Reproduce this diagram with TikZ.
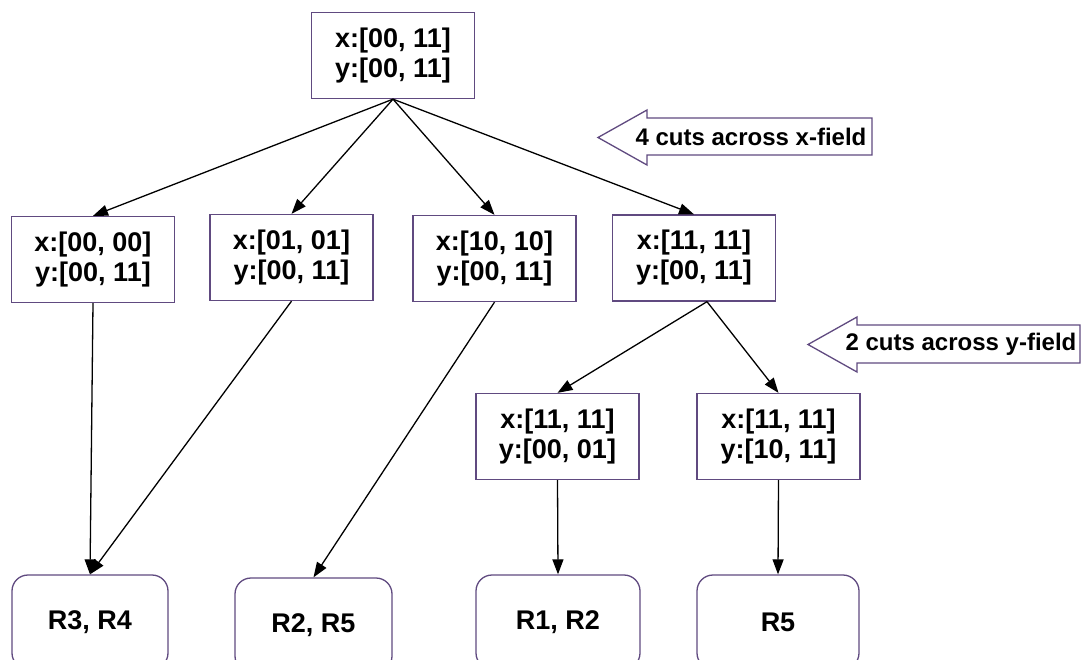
\documentclass[tikz,border=0pt]{standalone}
\usepackage{fontspec}
\setmainfont{Liberation Sans}
\usetikzlibrary{arrows.meta,positioning,calc}
\definecolor{boxline}{RGB}{96,74,128}
\tikzset{
  box/.style={draw=boxline, line width=1.3pt, fill=white, minimum width=163pt, minimum height=86pt,
    align=center, inner sep=0pt, font=\fontsize{27}{30}\selectfont\bfseries},
  leaf/.style={draw=boxline, line width=1.3pt, fill=white, rounded corners=16pt, minimum height=94pt,
    inner sep=0pt, font=\fontsize{27}{30}\selectfont\bfseries},
  edge/.style={line width=1.3pt, -{Triangle[length=15pt,width=11pt]}},
  callout/.style={draw=boxline, line width=1.3pt, fill=white},
  callouttext/.style={font=\fontsize{24}{28}\selectfont\bfseries, inner sep=0pt}
}
\begin{document}
\begin{tikzpicture}[x=1pt,y=-1pt]
\clip (0,0) rectangle (1082,659);
\fill[white] (0,0) rectangle (1082,659);
% tree nodes
\node[box] (top) at (393,55.5) {x:[00, 11]\\y:[00, 11]};
\node[box] (b1) at (93,259.5) {x:[00, 00]\\y:[00, 11]};
\node[box] (b2) at (291.5,257.5) {x:[01, 01]\\y:[00, 11]};
\node[box] (b3) at (494.5,258.5) {x:[10, 10]\\y:[00, 11]};
\node[box] (b4) at (694,258) {x:[11, 11]\\y:[00, 11]};
\node[box] (b5) at (557.5,436.5) {x:[11, 11]\\y:[00, 01]};
\node[box] (b6) at (778.5,436.5) {x:[11, 11]\\y:[10, 11]};
% leaves
\node[leaf, minimum width=156pt] (r34) at (90,622) {R3, R4};
\node[leaf, minimum width=157pt] (r25) at (313.5,625) {R2, R5};
\node[leaf, minimum width=164pt] (r12) at (558,622) {R1, R2};
\node[leaf, minimum width=162pt] (r5) at (778,622) {R5};
% edges
\draw[edge] (top.south) -- (b1.north);
\draw[edge] (top.south) -- (b2.north);
\draw[edge] (top.south) -- (b3.north);
\draw[edge] (top.south) -- (b4.north);
\coordinate (b4out) at ([xshift=13pt]b4.south);
\draw[edge] (b4out) -- (b5.north);
\draw[edge] (b4out) -- (b6.north);
\draw[edge] (b1.south) -- (r34.north);
\draw[edge] (b2.south) -- (r34.north);
\draw[edge] (b3.south) -- (r25.north);
\draw[edge] (b5.south) -- (r12.north);
\draw[edge] (b6.south) -- (r5.north);
% callouts
\draw[callout] (598,137.5) -- (647,110) -- (647,118) -- (872,118) -- (872,155) -- (647,155) -- (647,165) -- cycle;
\node[callouttext] (c1) at (751,137) {4 cuts across x-field};
\draw[callout] (808,344.5) -- (857,317) -- (857,325) -- (1080,325) -- (1080,363) -- (857,363) -- (857,372) -- cycle;
\node[callouttext] (c2) at (961,344) {2 cuts across y-field};
\end{tikzpicture}
\end{document}
